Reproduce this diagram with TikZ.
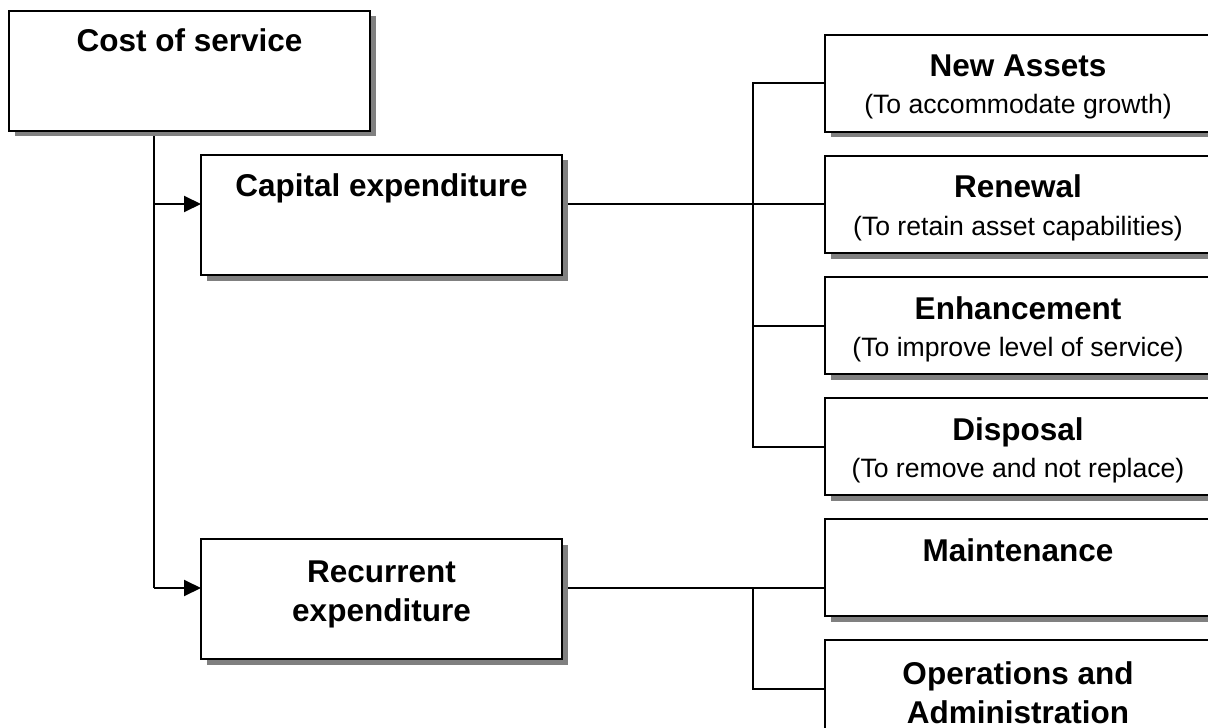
\documentclass[tikz,border=0pt]{standalone}
\usepackage{fontspec}
\setmainfont{Liberation Sans}
\usetikzlibrary{arrows.meta,shadows,backgrounds,positioning}

\begin{document}
\begin{tikzpicture}[x=0.5pt, y=-0.5pt,
    box/.style={draw, line width=1pt, fill=white, outer sep=0pt, inner sep=0pt,
      drop shadow={shadow xshift=2.75pt, shadow yshift=-2.75pt, fill=black!50, opacity=1}},
    bigbox/.style={box, minimum width=180.5pt, minimum height=60pt},
    sidebox/.style={box, minimum width=193pt, minimum height=48.5pt},
    head/.style={font=\fontsize{15.75pt}{19.2pt}\selectfont\bfseries, inner sep=0pt, align=center, anchor=base},
    sub/.style={font=\fontsize{13.3pt}{16pt}\selectfont, inner sep=0pt, anchor=base},
    link/.style={line width=1pt},
    feed/.style={link, -{Triangle[length=8.5pt, width=8pt]}}]

  \clip (0,0) rectangle (1208,727);

  % Left column
  \node[bigbox] (cost) at (189.5,71) {};
  \node[bigbox] (capex) at (381.5,215) {};
  \node[bigbox] (recur) at (381.5,599) {};

  % Right column
  \node[sidebox] (new) at (1018,83.5) {};
  \node[sidebox, below=12pt of new] (renew) {};
  \node[sidebox, below=12pt of renew] (enh) {};
  \node[sidebox, below=12pt of enh] (dispo) {};
  \node[sidebox, below=12pt of dispo] (maint) {};
  \node[sidebox, below=12pt of maint] (ops) {};

  % Titles (multi-line ones sit on their last line)
  \node[head] (cost-t) at ([yshift=-20.5pt]cost.north) {Cost of service};
  \node[head] (capex-t) at ([yshift=-21pt]capex.north) {Capital expenditure};
  \node[head] (recur-t) at ([yshift=-41pt]recur.north) {Recurrent\\expenditure};
  \node[head] (new-t) at ([yshift=-21pt]new.north) {New Assets};
  \node[sub] (new-s) at ([yshift=-39.5pt]new.north) {(To accommodate growth)};
  \node[head] (renew-t) at ([yshift=-21pt]renew.north) {Renewal};
  \node[sub] (renew-s) at ([yshift=-39.75pt]renew.north) {(To retain asset capabilities)};
  \node[head] (enh-t) at ([yshift=-21pt]enh.north) {Enhancement};
  \node[sub] (enh-s) at ([yshift=-39.75pt]enh.north) {(To improve level of service)};
  \node[head] (dispo-t) at ([yshift=-21pt]dispo.north) {Disposal};
  \node[sub] (dispo-s) at ([yshift=-39.75pt]dispo.north) {(To remove and not replace)};
  \node[head] (maint-t) at ([yshift=-21pt]maint.north) {Maintenance};
  \node[head] (ops-t) at ([yshift=-41.5pt]ops.north) {Operations and\\Administration};

  % Connectors
  \begin{scope}[on background layer]
    \coordinate (trunk) at (154,131);
    \coordinate (capin) at (154,204);
    \coordinate (recin) at (154,588);
    \draw[link] (trunk) -- (recin);
    \draw[feed] (capin) -- (capin -| capex.west);
    \draw[feed] (recin) -- (recin -| recur.west);

    \coordinate (capbus) at (753,0);
    \draw[link] (capex.east |- renew.west) -- (renew.west);
    \draw[link] (new.west) -| (capbus |- dispo.west) -- (dispo.west);
    \draw[link] (enh.west) -- (enh.west -| capbus);

    \coordinate (recout) at (753,588);
    \draw[link] (recur.east |- recout) -- (recout -| maint.west);
    \draw[link] (recout) |- (ops.west);
  \end{scope}

\end{tikzpicture}
\end{document}
